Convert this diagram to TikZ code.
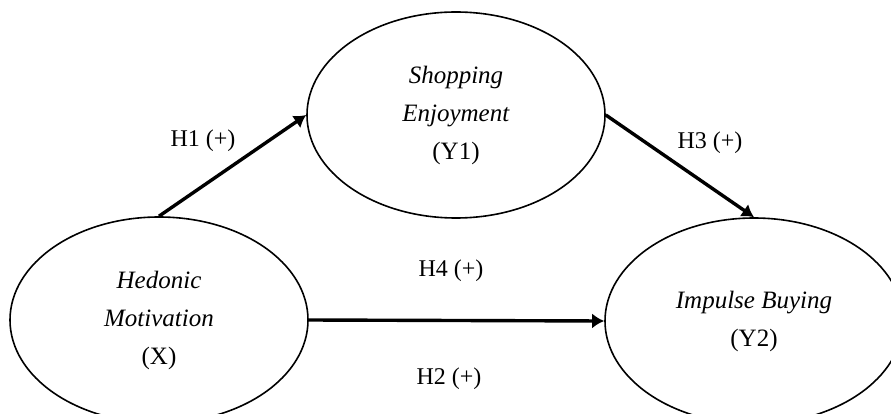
\documentclass[tikz,border=0pt]{standalone}
\usepackage{fontspec}
\setmainfont{Liberation Serif}
\usetikzlibrary{shapes.geometric,arrows.meta}

\tikzset{
  construct/.style={draw, ellipse, line width=1.6pt, minimum width=298pt, minimum height=206pt,
    inner sep=0pt, align=center, font=\fontsize{25}{38}\selectfont},
  path/.style={line width=3.4pt, -{Latex[length=12pt,width=15pt]}},
  hyp/.style={font=\fontsize{24}{28}\selectfont}
}

\begin{document}
\begin{tikzpicture}[x=1pt, y=-1pt]
\useasboundingbox (0,0) rectangle (891,414);

% constructs
\node[construct] (X) at (159,320) {\textit{Hedonic}\\ \textit{Motivation}\\ (X)};
\node[construct] (Y1) at (456,115) {\textit{Shopping}\\ \textit{Enjoyment}\\ (Y1)};
\node[construct] (Y2) at (754,321) {\textit{Impulse Buying}\\ (Y2)};

% paths
\draw[path] (X.north) -- (Y1.west);
\draw[path] (Y1.east) -- (Y2.north);
\draw[path] (X.east) -- (Y2.west);

% hypotheses
\node[hyp] (h1) at (203,141) {H1 (+)};
\node[hyp] (h3) at (710,143) {H3 (+)};
\node[hyp] (h4) at (451,271) {H4 (+)};
\node[hyp] (h2) at (449,379) {H2 (+)};
\end{tikzpicture}
\end{document}
